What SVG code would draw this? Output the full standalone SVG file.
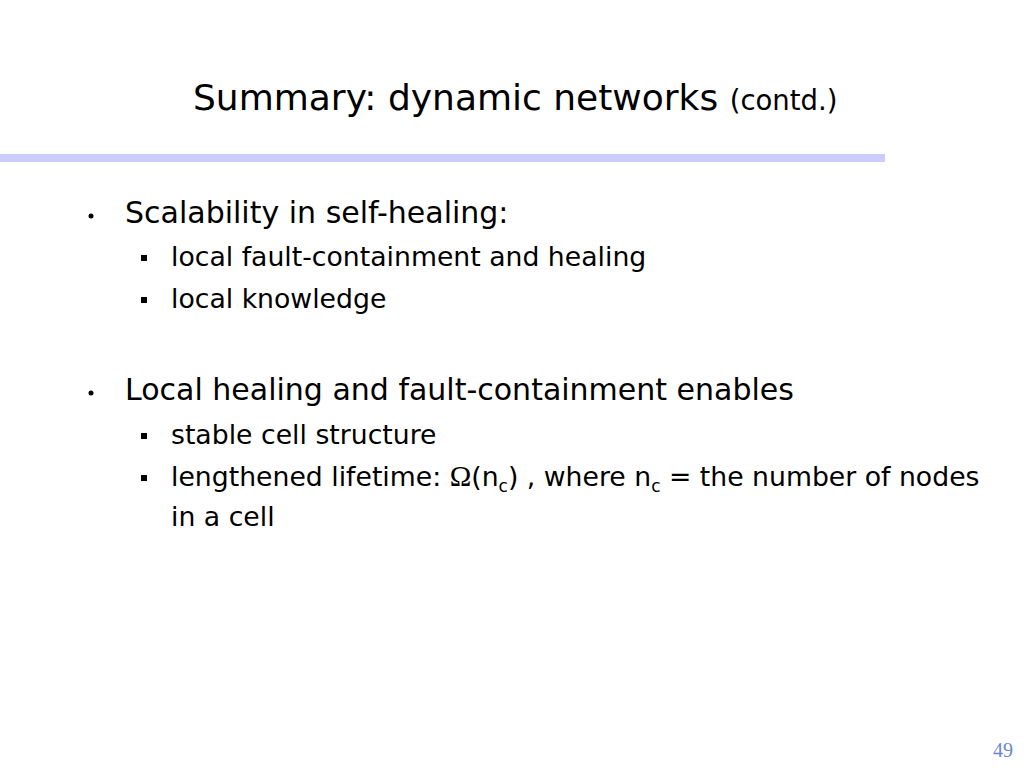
<svg xmlns="http://www.w3.org/2000/svg" width="1024" height="768" viewBox="0 0 1024 768">
<style>
.t{font-family:"DejaVu Sans","Verdana",sans-serif;fill:#000}
.l1{font-size:30px}
.l2{font-size:26.7px}
.om{font-family:"Liberation Serif",serif;font-size:29px}
.sq{fill:#000}
</style>
<rect width="1024" height="768" fill="#fff"/>
<text class="t" x="193" y="110" font-size="36">Summary: dynamic networks <tspan font-size="27.5">(contd.)</tspan></text>
<rect x="0" y="154" width="885" height="8" fill="#ccccff"/>
<g id="b1">
<circle cx="91" cy="216" r="2.5" fill="#000"/>
<text class="t l1" x="125" y="223">Scalability in self-healing:</text>
</g>
<g id="b1a">
<rect class="sq" x="141" y="255" width="6" height="6"/>
<text class="t l2" x="171" y="266">local fault-containment and healing</text>
</g>
<g id="b1b">
<rect class="sq" x="141" y="297" width="6" height="6"/>
<text class="t l2" x="171" y="308">local knowledge</text>
</g>
<g id="b2">
<circle cx="91" cy="393" r="2.5" fill="#000"/>
<text class="t l1" x="125" y="400">Local healing and fault-containment enables</text>
</g>
<g id="b2a">
<rect class="sq" x="141" y="433" width="6" height="6"/>
<text class="t l2" x="171" y="444">stable cell structure</text>
</g>
<g id="b2b">
<rect class="sq" x="141" y="475" width="6" height="6"/>
<text class="t l2" x="171" y="486">lengthened lifetime: <tspan class="om">Ω</tspan>(n<tspan font-size="17" dy="6">c</tspan><tspan dy="-6">) , where n</tspan><tspan font-size="17" dy="6">c</tspan><tspan dy="-6"> = the number of nodes</tspan></text>
<text class="t l2" x="171" y="526">in a cell</text>
</g>
<text x="1013" y="757" text-anchor="end" font-family="Liberation Serif,serif" font-size="20" fill="#6a86d6">49</text>
</svg>
